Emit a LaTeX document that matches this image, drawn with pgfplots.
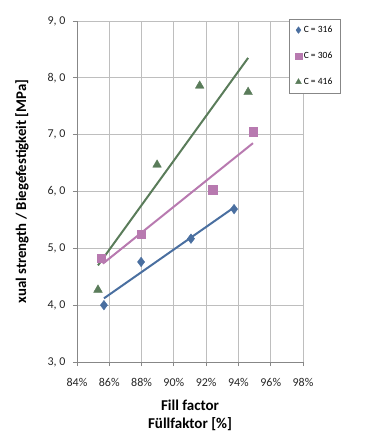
\documentclass[border=0pt]{standalone}
\usepackage{fontspec}
\setmainfont{Carlito}
\usepackage{pgfplots}
\pgfplotsset{compat=1.18}
\definecolor{cblue}{RGB}{74,111,160}
\definecolor{cpink}{RGB}{184,122,176}
\definecolor{cgreen}{RGB}{90,124,90}
\definecolor{gridc}{RGB}{190,190,190}
\definecolor{axc}{RGB}{135,135,135}
\begin{document}
\begin{tikzpicture}
\useasboundingbox (-77pt,-80pt) rectangle (293pt,362pt);
\begin{axis}[
  at={(0,0)}, anchor=south west,
  scale only axis, width=226pt, height=341pt,
  xmin=84, xmax=98, ymin=3, ymax=9,
  xtick={84,86,...,98},
  xticklabels={84\%,86\%,88\%,90\%,92\%,94\%,96\%,98\%},
  ytick={3,4,5,6,7,8,9},
  yticklabels={{3, 0},{4, 0},{5, 0},{6, 0},{7, 0},{8, 0},{9, 0}},
  /pgf/number format/assume math mode=true,
  tick label style={font=\fontsize{12}{14}\selectfont, text=black!85},
  xticklabel style={yshift=-9pt},
  yticklabel style={xshift=-4pt},
  grid=major,
  major grid style={gridc, line width=0.8pt},
  axis line style={axc, line width=0.8pt},
  tick style={axc, line width=0.8pt},
  tick align=outside, major tick length=4pt,
  axis x line*=bottom, axis y line*=left,
  xlabel={\bfseries\begin{tabular}{c}Fill factor\\[1pt] Füllfaktor [\%]\end{tabular}},
  xlabel style={font=\fontsize{15}{17}\selectfont, yshift=-5pt},
  ylabel={\bfseries xual strength / Biegefestigkeit [MPa]},
  ylabel style={font=\fontsize{14.8}{17}\selectfont, yshift=12pt},
  legend style={at={(0.938,1.006)}, anchor=north west, draw=axc, fill=white,
    font=\fontsize{9.5}{11}\selectfont, row sep=14pt, inner xsep=6pt, inner ysep=5pt,
    cells={anchor=west}},
  legend image code/.code={\draw[#1, mark size=3.3pt] plot coordinates {(0.2cm,0cm)};},
  clip=false,
]
\addplot[only marks, mark=diamond*, mark size=4.8pt, color=cblue] coordinates {
  (85.67,4.00) (87.97,4.76) (91.06,5.17) (93.73,5.69)};
\addlegendentry{C = 316}
\addplot[only marks, mark=square*, mark size=4.2pt, color=cpink] coordinates {
  (85.5,4.83) (87.97,5.25) (92.4,6.03) (94.9,7.05)};
\addlegendentry{C = 306}
\addplot[only marks, mark=triangle*, mark size=5pt, color=cgreen] coordinates {
  (85.3,4.27) (88.96,6.47) (91.6,7.86) (94.6,7.75)};
\addlegendentry{C = 416}
\addplot[cblue, line width=2pt, forget plot] coordinates {(85.67,4.12) (93.73,5.72)};
\addplot[cpink, line width=2pt, forget plot] coordinates {(85.6,4.73) (94.9,6.85)};
\addplot[cgreen, line width=2pt, forget plot] coordinates {(85.3,4.70) (94.6,8.35)};
\end{axis}
\end{tikzpicture}
\end{document}
